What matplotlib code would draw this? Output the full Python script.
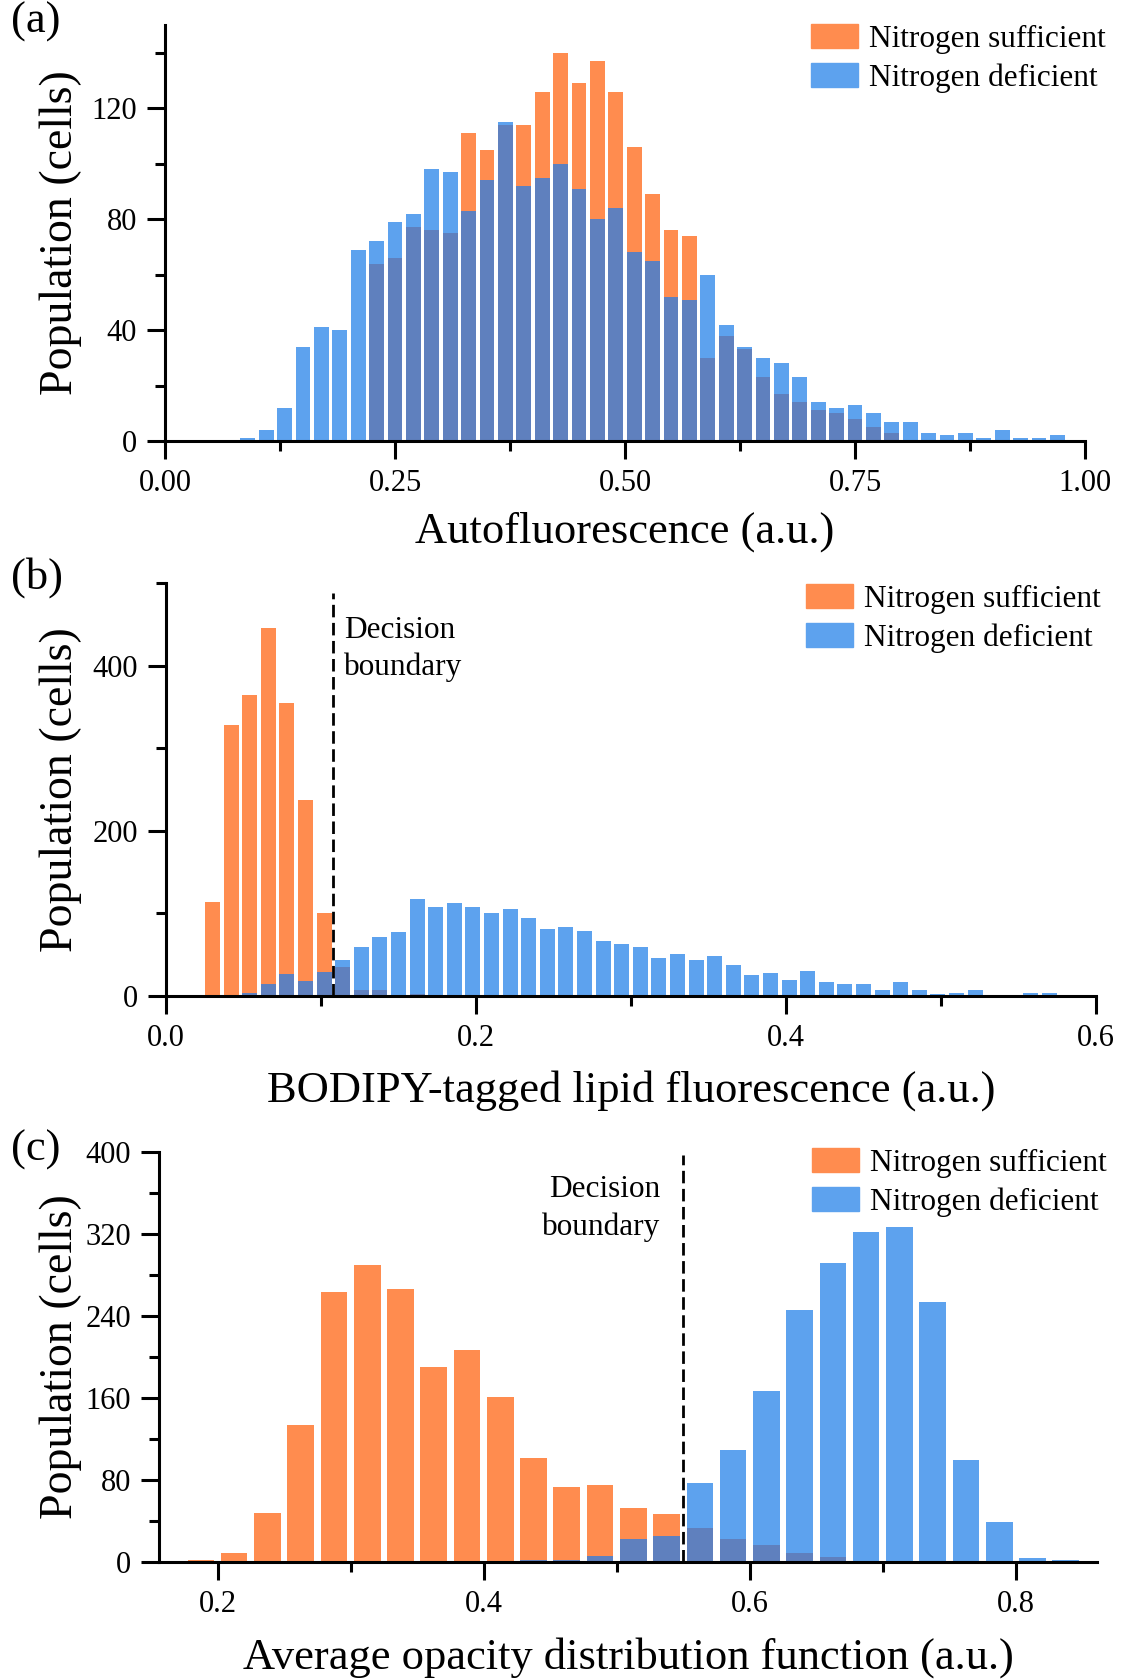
import numpy as np
import matplotlib
matplotlib.use('Agg')
import matplotlib.pyplot as plt
from matplotlib.patches import Patch
from matplotlib.ticker import MultipleLocator, FormatStrFormatter

plt.rcParams['font.family'] = ['Liberation Serif', 'DejaVu Serif']

ORANGE = '#FF8C4F'
BLUE = '#5DA2EE'
DARK = '#5F80BE'

W, H = 1133, 1680

################ Data ################
# (a) autofluorescence, bins 0.02 wide starting at 0.08
auto_start, auto_width = 0.08, 0.02
auto_sufficient = [0, 0, 0, 0, 0, 0, 0, 64, 66, 77, 76, 75, 111, 105, 114, 114, 126, 140, 129, 137,
                   126, 106, 89, 76, 74, 30, 38, 33, 23, 17, 14, 11, 10, 8, 5, 3, 0, 0, 0, 0,
                   0, 0, 0, 0, 0]
auto_deficient = [1, 4, 12, 34, 41, 40, 69, 72, 79, 82, 98, 97, 83, 94, 115, 92, 95, 100, 91, 80,
                  84, 68, 65, 52, 51, 60, 42, 34, 30, 28, 23, 14, 12, 13, 10, 7, 7, 3, 2, 3,
                  1, 4, 1, 1, 2]

# (b) BODIPY lipid fluorescence, bins 0.012 wide starting at 0.024
lipid_start, lipid_width = 0.024, 0.012
lipid_sufficient = [114, 328, 364, 445, 355, 237, 100, 35, 7, 7, 0, 2] + [0] * 36
lipid_deficient = [0, 0, 4, 15, 27, 18, 29, 43, 59, 72, 77, 118, 108, 113, 108, 101, 105, 95, 81, 84,
                   79, 66, 63, 59, 46, 51, 43, 48, 37, 26, 28, 19, 30, 17, 14, 15, 7, 17, 7, 3,
                   4, 7, 1, 1, 4, 4, 1, 1]
lipid_boundary = 0.108

# (c) average opacity distribution function, bins 0.025 wide starting at 0.175
opac_start, opac_width = 0.175, 0.025
opac_sufficient = [2, 9, 48, 134, 263, 290, 266, 190, 207, 161, 101, 73, 75, 53, 47,
                   33, 22, 17, 9, 5, 0, 0, 0, 0, 0, 0, 0]
opac_deficient = [0, 0, 0, 0, 0, 0, 0, 0, 0, 0, 2, 2, 6, 22, 25,
                  77, 109, 167, 246, 292, 322, 327, 254, 100, 39, 4, 2]
opac_boundary = 0.55

labels = ['Nitrogen sufficient', 'Nitrogen deficient']


#––––––––––––––––––––––––––––––––––––––––––––––––––––––––––––––––––––––––––#
def px_axes(fig, left, top, right, bottom):
    """Axes placed from pixel edges of the reference picture."""
    return fig.add_axes([left / W, 1 - bottom / H, (right - left) / W, (bottom - top) / H])


def draw_hist(ax, start, width, suff, defi):
    """Overlaid histograms, overlapping part in a darker blue."""
    suff, defi = np.asarray(suff), np.asarray(defi)
    centres = start + width * (np.arange(len(suff)) + 0.5)
    w = width * 0.8
    ax.bar(centres, suff, w, color=ORANGE, linewidth=0)
    ax.bar(centres, defi, w, color=BLUE, linewidth=0)
    ax.bar(centres, np.minimum(suff, defi), w, color=DARK, linewidth=0)


def style_axes(ax, box, xlabel, xlab_y, legend_xy):
    left, top, right, bottom = box
    for s in ['top', 'right']:
        ax.spines[s].set_visible(False)
    for s in ['left', 'bottom']:
        ax.spines[s].set_linewidth(2.2)
    ax.tick_params(which='major', direction='out', length=13, width=2.2, labelsize=22, pad=7)
    ax.tick_params(which='minor', direction='out', length=7, width=2.2)
    ax.set_ylabel('Population (cells)', fontsize=33, va='center')
    ax.yaxis.set_label_coords((61 - left) / (right - left), 0.5)
    ax.set_xlabel(xlabel, fontsize=32, va='center')
    ax.xaxis.set_label_coords(0.5, (bottom - xlab_y) / (bottom - top))
    handles = [Patch(color=ORANGE, label=labels[0]), Patch(color=BLUE, label=labels[1])]
    ax.legend(handles=handles, loc='upper left', frameon=False, fontsize=22.5,
              bbox_to_anchor=(legend_xy[0] / W, 1 - legend_xy[1] / H),
              bbox_transform=ax.figure.transFigure,
              handlelength=1.5, handleheight=0.8, handletextpad=0.35,
              labelspacing=0.3, borderpad=0, borderaxespad=0)


fig = plt.figure(figsize=(W / 100, H / 100), dpi=100)

# (a)
box_a = (165, 25, 1085, 441)
ax = px_axes(fig, *box_a)
draw_hist(ax, auto_start, auto_width, auto_sufficient, auto_deficient)
ax.set_xlim(0, 1.0)
ax.set_ylim(0, 150)
ax.xaxis.set_major_locator(MultipleLocator(0.25))
ax.xaxis.set_minor_locator(MultipleLocator(0.125))
ax.xaxis.set_major_formatter(FormatStrFormatter('%.2f'))
ax.yaxis.set_major_locator(MultipleLocator(40))
ax.yaxis.set_minor_locator(MultipleLocator(20))
style_axes(ax, box_a, 'Autofluorescence (a.u.)', 532, (811, 24))

# (b)
box_b = (166, 583, 1096, 996)
ax = px_axes(fig, *box_b)
draw_hist(ax, lipid_start, lipid_width, lipid_sufficient, lipid_deficient)
ax.set_xlim(0, 0.6)
ax.set_ylim(0, 500)
ax.xaxis.set_major_locator(MultipleLocator(0.2))
ax.xaxis.set_minor_locator(MultipleLocator(0.1))
ax.xaxis.set_major_formatter(FormatStrFormatter('%.1f'))
ax.yaxis.set_major_locator(MultipleLocator(200))
ax.yaxis.set_minor_locator(MultipleLocator(100))
ax.plot([lipid_boundary, lipid_boundary], [0, 488], color='black', lw=2, ls=(0, (4.5, 2)))
ax.text(0.115, 420, 'Decision\nboundary', fontsize=22.5, ha='left', va='center', linespacing=1.35)
style_axes(ax, box_b, 'BODIPY-tagged lipid fluorescence (a.u.)', 1091, (806, 584))

# (c)
box_c = (159, 1152, 1097, 1562)
ax = px_axes(fig, *box_c)
draw_hist(ax, opac_start, opac_width, opac_sufficient, opac_deficient)
ax.set_xlim(0.156, 0.861)
ax.set_ylim(0, 400)
ax.xaxis.set_major_locator(MultipleLocator(0.2))
ax.xaxis.set_minor_locator(MultipleLocator(0.1))
ax.xaxis.set_major_formatter(FormatStrFormatter('%.1f'))
ax.yaxis.set_major_locator(MultipleLocator(80))
ax.yaxis.set_minor_locator(MultipleLocator(40))
ax.plot([opac_boundary, opac_boundary], [0, 397], color='black', lw=2, ls=(0, (4.5, 2)))
ax.text(0.533, 345, 'Decision\nboundary', fontsize=22.5, ha='right', va='center', linespacing=1.35)
style_axes(ax, box_c, 'Average opacity distribution function (a.u.)', 1658, (812, 1148))

# panel letters
for lab, yc in [('(a)', 22), ('(b)', 578), ('(c)', 1150)]:
    fig.text(11 / W, 1 - yc / H, lab, fontsize=32, ha='left', va='center')

fig.savefig('out.png', dpi=100)
